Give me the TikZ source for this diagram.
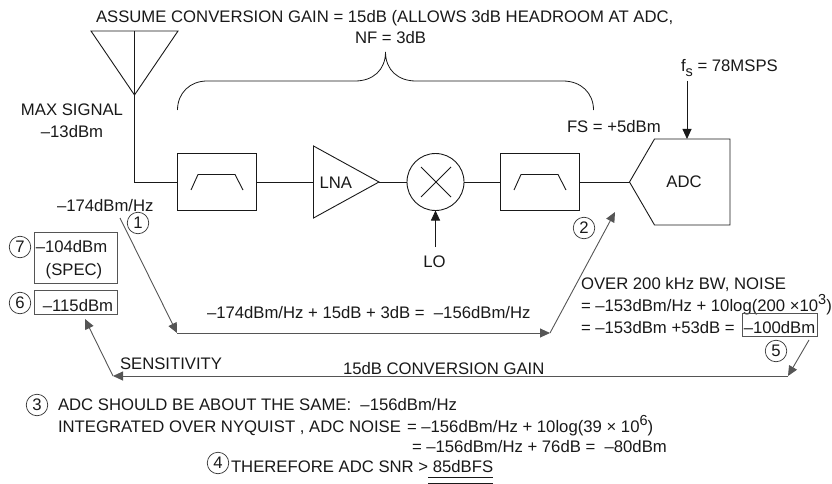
\documentclass[tikz,border=0pt]{standalone}
\usepackage{fontspec}
\setmainfont{Liberation Sans}
\usetikzlibrary{arrows.meta}
\definecolor{gl}{HTML}{555555}
\newcommand{\supr}[1]{\raisebox{6.5pt}{\fontsize{14.5}{14.5}\selectfont #1}}
\tikzset{
 every node/.style={inner sep=0pt,outer sep=0pt,font=\fontsize{16.7}{20}\selectfont,text=black!90},
 ln/.style={line width=0.9pt,draw=black!90},
 gr/.style={line width=0.9pt,draw=gl},
 arr/.style={-{Triangle[length=10pt,width=9pt]}},
 block/.style={ln,fill=white},
 num/.style={circle,draw=black!80,line width=0.7pt,minimum size=21.5pt},
 lab/.style={anchor=base west},
 boxg/.style={draw=gl,line width=0.9pt},
}
\begin{document}
\begin{tikzpicture}[x=1pt,y=-1pt]
\useasboundingbox (0,0) rectangle (832,484);
% labels top
\node[lab] (t1) at (96,23) {ASSUME CONVERSION GAIN = 15dB (ALLOWS 3dB HEADROOM AT ADC,};
\node[lab] (t2) at (355,44) {NF = 3dB};
% antenna
\coordinate (antL) at (91,31);
\coordinate (antR) at (178,31);
\coordinate (antT) at (134.5,31);
\coordinate (antB) at (134.5,95);
\draw[ln,line join=miter] (antL) -- (antR) -- (antB) -- cycle;
\draw[ln] (antT) -- (antB);
% blocks
\node[block,minimum width=79pt,minimum height=57.5pt,anchor=center] (f1) at (216.5,182) {};
\node[block,minimum width=79pt,minimum height=57.5pt,anchor=center] (f2) at (539.5,182) {};
\draw[ln] (191,190) -- (198,174.5) -- (235,174.5) -- (243,190);
\draw[ln] (514,190) -- (521,174.5) -- (558,174.5) -- (566,190);
\coordinate (lnaIn) at (313.5,182);
\coordinate (lnaOut) at (379,182);
\draw[ln,line join=miter] (313.5,146) -- (379,182) -- (313.5,218) -- cycle;
\node[lab] (lnat) at (319.5,188) {LNA};
\node[circle,ln,minimum size=57pt] (mix) at (435.5,182) {};
\draw[ln] (421,167) -- (451,197) (451,167) -- (421,197);
\coordinate (adcIn) at (629.5,182);
\draw[ln,line join=miter] (adcIn) -- (654.5,139) -- (730,139) -- (730,225) -- (654.5,225) -- cycle;
\node (adct) at (684,182) {ADC};
% signal path
\draw[ln] (antB) -- (134.5,182) -- (f1.west);
\draw[ln] (f1.east) -- (lnaIn);
\draw[ln] (lnaOut) -- (mix.west);
\draw[ln] (mix.east) -- (f2.west);
\draw[ln] (f2.east) -- (adcIn);
% brace
\draw[ln,line width=0.8pt] (177.5,110) .. controls (177.5,93) and (190,81) .. (207,81) -- (355,81) .. controls (373,81) and (385.5,70) .. (385.5,52) .. controls (385.5,70) and (398,81) .. (416,81) -- (563,81) .. controls (581,81) and (593.5,93) .. (593.5,110);
% inputs
\node[lab] (fs) at (681,72) {f\raisebox{-4.5pt}{\fontsize{14.5}{14.5}\selectfont s} = 78MSPS};
\coordinate (fsS) at (687,81);
\coordinate (adcT) at (687,139);
\draw[ln,arr] (fsS) -- (adcT);
\node (lo) at (434.5,262) {LO};
\coordinate (loS) at (435.5,247);
\draw[ln,arr] (loS) -- (mix.south);
% side labels
\node[lab] (fsl) at (567,132) {FS = +5dBm};
\node[anchor=base] (ms) at (72,116) {MAX SIGNAL};
\node[anchor=base] (ms2) at (72,137) {–13dBm};
\node[lab] (n174) at (57,211) {–174dBm/Hz};
% numbered circles
\node[num] (c1) at (138,223) {1};
\node[num] (c2) at (584,228) {2};
\node[num] (c3) at (37,405) {3};
\node[num] (c4) at (218,463) {4};
\node[num] (c5) at (776,351) {5};
\node[num] (c6) at (20,303) {6};
\node[num] (c7) at (20,247) {7};
% spec boxes
\node[boxg,minimum width=83pt,minimum height=51pt] (b7) at (75.5,257.5) {};
\node[anchor=base] at (71.5,252) {–104dBm};
\node[anchor=base] at (74,275) {(SPEC)};
\node[boxg,minimum width=83pt,minimum height=24pt] (b6) at (75.5,302) {};
\node[anchor=base] at (78,311) {–115dBm};
% noise path
\coordinate (p1) at (120,218);
\coordinate (p2) at (177,333);
\coordinate (p3) at (550,333);
\coordinate (p4) at (615,212);
\draw[gr,arr] (p1) -- (p2);
\draw[gr,arr] (p2) -- (p3);
\draw[gr,arr] (p3) -- (p4);
\node[lab] (e1) at (207,318) {–174dBm/Hz + 15dB + 3dB = \ –156dBm/Hz};
% right text
\node[lab] at (581,289) {OVER 200 kHz BW, NOISE};
\node[lab] at (581,311) {= –153dBm/Hz + 10log(200 ×10\supr{3})};
\node[lab] at (581,333) {= –153dBm +53dB =};
\node[boxg,minimum width=75pt,minimum height=23pt] (b5) at (779.5,325.2) {};
\node[anchor=base] at (779.5,333) {–100dBm};
% conversion gain path
\coordinate (q1) at (809,340);
\coordinate (q2) at (788,376);
\coordinate (q3) at (113,376);
\coordinate (q4) at (85,319);
\draw[gr,arr] (q1) -- (q2);
\draw[gr,arr] (q2) -- (q3);
\draw[gr,arr] (q3) -- (q4);
\node[lab] at (120,369) {SENSITIVITY};
\node[lab] at (343,374) {15dB CONVERSION GAIN};
% bottom text
\node[lab] at (58,410.5) {ADC SHOULD BE ABOUT THE SAME: \ –156dBm/Hz};
\node[lab] at (58,432) {INTEGRATED OVER NYQUIST , ADC NOISE};
\node[lab] at (407,432) {= –156dBm/Hz + 10log(39 × 10\supr{6})};
\node[lab] at (412,452.5) {= –156dBm/Hz + 76dB = \ –80dBm};
\node[lab] (th) at (231,472) {THEREFORE ADC SNR > 85dBFS};
\coordinate (u1) at (428,477);
\coordinate (u2) at (493,477);
\coordinate (u3) at (428,483);
\coordinate (u4) at (493,483);
\draw[ln] (u1) -- (u2) (u3) -- (u4);
\end{tikzpicture}
\end{document}
